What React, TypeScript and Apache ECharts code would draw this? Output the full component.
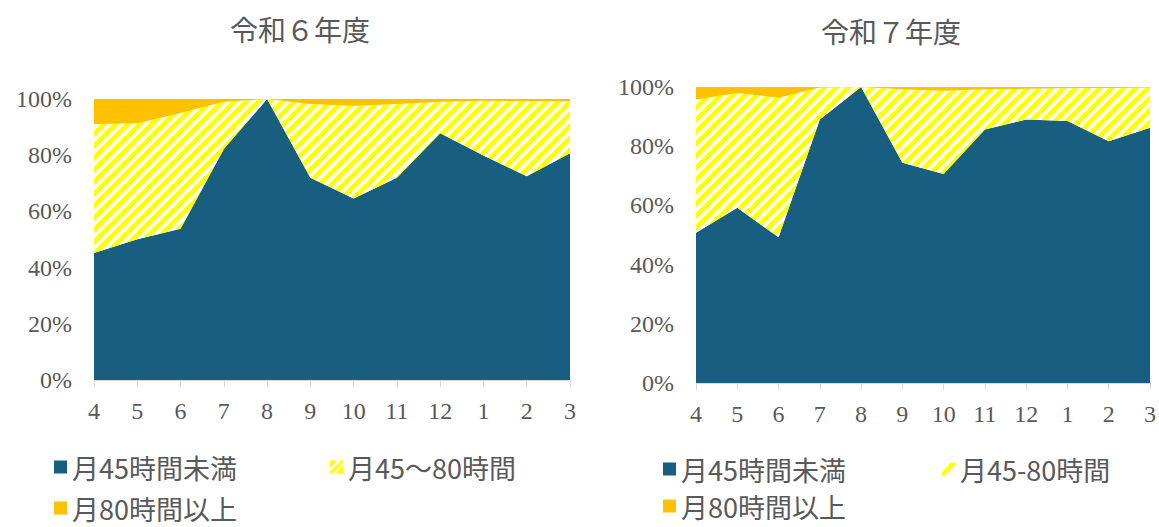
import React, { useEffect, useRef } from "react";
import * as echarts from "echarts";

const months = ["4", "5", "6", "7", "8", "9", "10", "11", "12", "1", "2", "3"];
const yTicks = [0, 20, 40, 60, 80, 100];

const r6Under45 = [45.2, 50.1, 53.8, 82.2, 100, 72.0, 64.6, 72.0, 87.8, 79.9, 72.5, 80.7];
const r6From45To80 = [45.9, 41.3, 41.2, 16.8, 0, 26.2, 33.0, 26.2, 11.2, 19.5, 26.7, 18.5];
const r6Over80 = [8.9, 8.6, 5.0, 1.0, 0, 1.8, 2.4, 1.8, 1.0, 0.6, 0.8, 0.8];

const r7Under45 = [50.8, 59.2, 49.2, 89.0, 100, 74.4, 70.6, 85.6, 89.0, 88.5, 81.7, 86.2];
const r7From45To80 = [45.0, 38.8, 47.2, 10.8, 0, 24.8, 28.1, 13.6, 10.4, 11.1, 18.0, 13.6];
const r7Over80 = [4.2, 2.0, 3.6, 0.2, 0, 0.8, 1.3, 0.8, 0.6, 0.4, 0.3, 0.2];

const titles = ["令和６年度", "令和７年度"];
const nameUnder45 = "月45時間未満";
const nameMid6 = "月45～80時間";
const nameMid7 = "月45-80時間";
const nameOver80 = "月80時間以上";

const DARK = "#185E80";
const YELLOW = "#FFFF00";
const ORANGE = "#FFC000";
const GREY = "#595959";
const AXIS = "#D9D9D9";
const SERIF = '"Liberation Serif", "Times New Roman", serif';
const SANS = '"Noto Sans CJK JP", "Noto Sans", sans-serif';

const iconHatch6 = "path://M0,0 L7,0 L0,7 Z M13,5 L13,13 L5,13 Z M0,11 L11,0 L13,0 L13,2 L2,13 L0,13 Z";
const iconHatch7 = "path://M0,10 L9,0 L13,0 L13,3 L3,13 L0,13 Z";

function makeHatchCanvas() {
  const N = 12;
  const c = document.createElement("canvas");
  c.width = N;
  c.height = N;
  const ctx = c.getContext("2d");
  if (ctx) {
    ctx.fillStyle = "#FFFFFF";
    ctx.fillRect(0, 0, N, N);
    ctx.strokeStyle = YELLOW;
    ctx.lineWidth = N * 0.707 * 0.55;
    for (const k of [0, N, 2 * N]) {
      ctx.beginPath();
      ctx.moveTo(k + 3, -3);
      ctx.lineTo(-3, k + 3);
      ctx.stroke();
    }
  }
  return c;
}

function makeAreas(stack: string, idx: number, under: number[], mid: number[], over: number[], midName: string, hatchFill: any) {
  const base = {
    type: "line",
    stack,
    xAxisIndex: idx,
    yAxisIndex: idx,
    symbol: "none",
    showSymbol: false,
    lineStyle: { width: 0 },
  };
  return [
    { ...base, name: nameUnder45, data: under, itemStyle: { color: DARK }, areaStyle: { color: DARK, opacity: 1 } },
    {
      ...base,
      name: midName,
      data: mid,
      itemStyle: { color: YELLOW },
      areaStyle: { color: hatchFill, opacity: 1 },
    },
    { ...base, name: nameOver80, data: over, itemStyle: { color: ORANGE }, areaStyle: { color: ORANGE, opacity: 1 } },
  ];
}

function legendItem(name: string, left: number, top: number, icon?: string) {
  return {
    left,
    top,
    padding: 0,
    itemWidth: 13,
    itemHeight: 13,
    itemGap: 0,
    selectedMode: false,
    data: [icon ? { name, icon, itemStyle: { color: YELLOW } } : { name, icon: "rect" }],
    textStyle: { color: GREY, fontSize: 27, lineHeight: 28, fontFamily: SANS },
  };
}

export default function App() {
  const ref = useRef<HTMLDivElement>(null);
  useEffect(() => {
    if (!ref.current) return;
    const chart = echarts.init(ref.current, null, { renderer: "svg" });
    const hatchFill = { image: makeHatchCanvas(), repeat: "repeat" };
    const xAxisCommon = {
      type: "category",
      data: months,
      boundaryGap: false,
      axisLine: { show: true, lineStyle: { color: AXIS, width: 1 } },
      axisTick: { show: true, length: 7, lineStyle: { color: AXIS } },
      axisLabel: { color: GREY, fontSize: 24, fontFamily: SERIF, margin: 19 },
      splitLine: { show: false },
    };
    const yAxisCommon = {
      type: "value",
      min: yTicks[0],
      max: yTicks[yTicks.length - 1],
      interval: 20,
      axisLine: { show: false },
      axisTick: { show: false },
      splitLine: { show: false },
      axisLabel: { color: GREY, fontSize: 24, fontFamily: SERIF, margin: 22, formatter: "{value}%" },
    };
    chart.setOption({
      animation: false,
      backgroundColor: "#FFFFFF",
      graphic: [
        {
          type: "text",
          x: 300,
          y: 29,
          style: { text: titles[0], textAlign: "center", verticalAlign: "middle", fontSize: 28, fill: GREY, fontFamily: SANS },
        },
        {
          type: "text",
          x: 891,
          y: 31,
          style: { text: titles[1], textAlign: "center", verticalAlign: "middle", fontSize: 28, fill: GREY, fontFamily: SANS },
        },
      ],
      grid: [
        { left: 94, top: 99, width: 476, height: 281 },
        { left: 696, top: 87, width: 454, height: 296 },
      ],
      xAxis: [
        { ...xAxisCommon, gridIndex: 0 },
        { ...xAxisCommon, gridIndex: 1 },
      ],
      yAxis: [
        { ...yAxisCommon, gridIndex: 0 },
        { ...yAxisCommon, gridIndex: 1 },
      ],
      legend: [
        legendItem(nameUnder45, 54, 453),
        legendItem(nameMid6, 330, 453, iconHatch6),
        legendItem(nameOver80, 54, 494),
        legendItem(nameUnder45, 663, 455),
        legendItem(nameMid7, 942, 455, iconHatch7),
        legendItem(nameOver80, 663, 492),
      ],
      series: [
        ...makeAreas("r6", 0, r6Under45, r6From45To80, r6Over80, nameMid6, hatchFill),
        ...makeAreas("r7", 1, r7Under45, r7From45To80, r7Over80, nameMid7, hatchFill),
      ],
    });
    return () => chart.dispose();
  }, []);
  return (
    <div
      ref={ref}
      style={{ position: "absolute", left: 0, top: 0, width: 1159, height: 527 }}
    />
  );
}
